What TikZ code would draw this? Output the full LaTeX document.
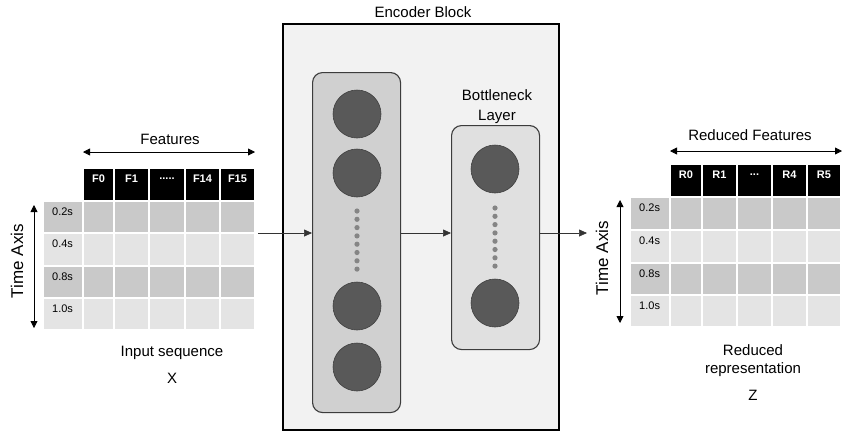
\documentclass[tikz,border=0pt]{standalone}
\usepackage{fontspec}
\setmainfont{Liberation Sans}
\usetikzlibrary{arrows.meta,calc}
\definecolor{rowdark}{HTML}{C9C9C9}
\definecolor{rowlight}{HTML}{E4E4E4}
\definecolor{encfill}{HTML}{F2F2F2}
\definecolor{layerA}{HTML}{D0D0D0}
\definecolor{layerB}{HTML}{E0E0E0}
\definecolor{layerline}{HTML}{3C3C3C}
\definecolor{neuron}{HTML}{595959}
\definecolor{dotgray}{HTML}{858585}
\newcommand\myfivedots{.....}
\newcommand\mythreedots{...}
\begin{document}
\begin{tikzpicture}[x=1pt,y=-1pt,
  lbl/.style={font=\fontsize{15}{18}\selectfont, inner sep=0pt, align=center},
  axislbl/.style={font=\fontsize{17}{20}\selectfont, inner sep=0pt, rotate=90},
  cellbase/.style={anchor=north west, draw=white, line width=1.4pt, inner sep=0pt, outer sep=0pt},
  hcell/.style={cellbase, fill=black},
  dcell/.style={cellbase},
  htext/.style={font=\fontsize{11}{13}\selectfont\bfseries, text=white, inner sep=0pt},
  rtext/.style={font=\fontsize{11}{13}\selectfont, inner sep=0pt, anchor=west},
  dblarrow/.style={{Triangle[length=7pt,width=7pt]}-{Triangle[length=7pt,width=7pt]}, line width=0.8pt},
  flow/.style={-{Triangle[length=8pt,width=7pt]}, line width=0.6pt, draw=black!80},
  layerbox/.style={draw=layerline, line width=1.1pt, rounded corners=10pt},
  neu/.style={circle, fill=neuron, draw=black!75, line width=0.6pt, minimum size=48pt, inner sep=0pt},
  dotn/.style={circle, fill=dotgray, minimum size=5.2pt, inner sep=0pt}
]
\useasboundingbox (0,0) rectangle (842,432);

% ================= Left table =================
\foreach \xa/\xb/\t [count=\i] in {83/114/F0,114/149/F1,149/185/\myfivedots,185/220/F14,220/255/F15}{
  \node[hcell, minimum width={\xb-\xa}, minimum height=33] (lh\i) at (\xa,168) {};
  \node[htext] at ($(\xa,179)!0.5!(\xb,179)$) {\t};
}
\foreach \ya/\yb/\t/\c [count=\j] in {201/233/0.2s/rowdark,233/266/0.4s/rowlight,266/298/0.8s/rowdark,298/330/1.0s/rowlight}{
  \node[dcell, fill=\c, minimum width=40, minimum height={\yb-\ya}] (ll\j) at (43,\ya) {};
  \node[rtext] at (52,\ya+11) {\t};
  \foreach \xa/\xb [count=\i] in {83/114,114/149,149/185,185/220,220/255}{
    \node[dcell, fill=\c, minimum width={\xb-\xa}, minimum height={\yb-\ya}] (lc\j\i) at (\xa,\ya) {};
  }
}
\coordinate (lfa) at (83,152);
\coordinate (lfb) at (255,152);
\draw[dblarrow] (lfa) -- (lfb);
\node[lbl] (lfeat) at (170,139) {Features};
\coordinate (lta) at (34,205);
\coordinate (ltb) at (34,328);
\draw[dblarrow] (lta) -- (ltb);
\node[axislbl] (ltime) at (17,261) {Time Axis};
\node[lbl] (inseq) at (172,353) {Input sequence};
\node[lbl] (inx) at (172,378) {X};

% ================= Encoder block =================
\path[fill=encfill, draw=black, line width=2pt] (283,24) rectangle (559,430);
\node[lbl] (enc) at (423,12) {Encoder Block};
\node[layerbox, fill=layerA, anchor=north west, minimum width=88, minimum height=340, inner sep=0pt] (layer1) at (312,72) {};
\foreach \y [count=\k] in {114,173,306,367}{
  \node[neu] (n1\k) at (357,\y) {};
}
\foreach \k in {0,...,7}{
  \node[dotn] at (357,211+\k*8.3) {};
}
\node[layerbox, fill=layerB, anchor=north west, minimum width=88, minimum height=224, inner sep=0pt] (layer2) at (451,125) {};
\foreach \y [count=\k] in {169,303}{
  \node[neu] (n2\k) at (495,\y) {};
}
\foreach \k in {0,...,7}{
  \node[dotn] at (495,208+\k*8.3) {};
}
\node[lbl, font=\fontsize{15}{20}\selectfont] (bneck) at (497,107) {Bottleneck\\Layer};

% ================= Right table =================
\foreach \xa/\xb/\t [count=\i] in {670/702/R0,702/737/R1,737/772/\mythreedots,772/807/R4,807/841/R5}{
  \node[hcell, minimum width={\xb-\xa}, minimum height=33] (rh\i) at (\xa,164) {};
  \node[htext] at ($(\xa,175)!0.5!(\xb,175)$) {\t};
}
\foreach \ya/\yb/\t/\c [count=\j] in {197/230/0.2s/rowdark,230/263/0.4s/rowlight,263/295/0.8s/rowdark,295/327/1.0s/rowlight}{
  \node[dcell, fill=\c, minimum width=40, minimum height={\yb-\ya}] (rl\j) at (630,\ya) {};
  \node[rtext] at (639,\ya+11) {\t};
  \foreach \xa/\xb [count=\i] in {670/702,702/737,737/772,772/807,807/841}{
    \node[dcell, fill=\c, minimum width={\xb-\xa}, minimum height={\yb-\ya}] (rc\j\i) at (\xa,\ya) {};
  }
}
\coordinate (rfa) at (670,151);
\coordinate (rfb) at (842,151);
\draw[dblarrow] (rfa) -- (rfb);
\node[lbl] (rfeat) at (750,135) {Reduced Features};
\coordinate (rta) at (620,200);
\coordinate (rtb) at (620,323);
\draw[dblarrow] (rta) -- (rtb);
\node[axislbl] (rtime) at (602,258) {Time Axis};
\node[lbl, font=\fontsize{15}{18}\selectfont] (redrep) at (753,361) {Reduced\\representation};
\node[lbl] (outz) at (753,395) {Z};

% ================= Flow arrows =================
\coordinate (inA) at (258,233);
\coordinate (outB) at (587,233);
\draw[flow] (inA) -- (inA -| layer1.west);
\draw[flow] (layer1.east |- inA) -- (layer2.west |- inA);
\draw[flow] (layer2.east |- inA) -- (outB);
\end{tikzpicture}
\end{document}
